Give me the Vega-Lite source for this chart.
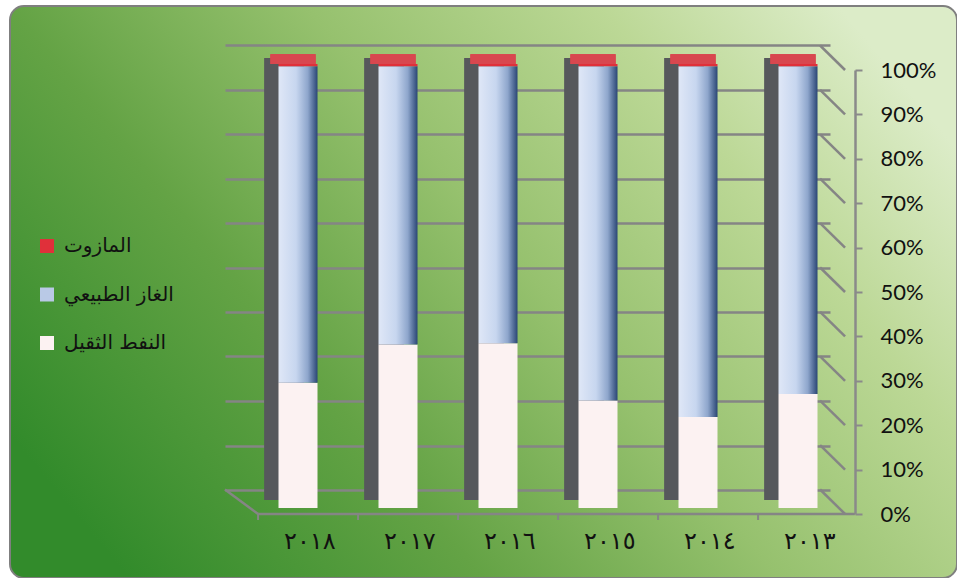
{
  "$schema": "https://vega.github.io/schema/vega-lite/v6.json",
  "width": 947,
  "height": 572,
  "autosize": {"type": "none"},
  "padding": {"left": 10, "top": 6, "right": 0, "bottom": 0},
  "background": "#ffffff",
  "config": {
    "view": {
      "stroke": "#7f7f7f",
      "strokeWidth": 2,
      "cornerRadius": 14,
      "fill": {
        "gradient": "linear",
        "x1": 0, "y1": 0.75, "x2": 1, "y2": 0.25,
        "stops": [
          {"offset": 0, "color": "#328b2b"},
          {"offset": 0.3, "color": "#64a345"},
          {"offset": 0.55, "color": "#96c16e"},
          {"offset": 0.8, "color": "#bcd896"},
          {"offset": 1, "color": "#dcecc8"}
        ]
      }
    }
  },
  "data": {
    "values": [
      {"year": "٢٠١٨", "series": "النفط الثقيل", "rank": 1, "share": 28.2},
      {"year": "٢٠١٨", "series": "الغاز الطبيعي", "rank": 2, "share": 71.3},
      {"year": "٢٠١٨", "series": "المازوت", "rank": 3, "share": 0.5},
      {"year": "٢٠١٧", "series": "النفط الثقيل", "rank": 1, "share": 36.8},
      {"year": "٢٠١٧", "series": "الغاز الطبيعي", "rank": 2, "share": 62.7},
      {"year": "٢٠١٧", "series": "المازوت", "rank": 3, "share": 0.5},
      {"year": "٢٠١٦", "series": "النفط الثقيل", "rank": 1, "share": 37.1},
      {"year": "٢٠١٦", "series": "الغاز الطبيعي", "rank": 2, "share": 62.4},
      {"year": "٢٠١٦", "series": "المازوت", "rank": 3, "share": 0.5},
      {"year": "٢٠١٥", "series": "النفط الثقيل", "rank": 1, "share": 24.2},
      {"year": "٢٠١٥", "series": "الغاز الطبيعي", "rank": 2, "share": 75.3},
      {"year": "٢٠١٥", "series": "المازوت", "rank": 3, "share": 0.5},
      {"year": "٢٠١٤", "series": "النفط الثقيل", "rank": 1, "share": 20.5},
      {"year": "٢٠١٤", "series": "الغاز الطبيعي", "rank": 2, "share": 79.0},
      {"year": "٢٠١٤", "series": "المازوت", "rank": 3, "share": 0.5},
      {"year": "٢٠١٣", "series": "النفط الثقيل", "rank": 1, "share": 25.7},
      {"year": "٢٠١٣", "series": "الغاز الطبيعي", "rank": 2, "share": 73.8},
      {"year": "٢٠١٣", "series": "المازوت", "rank": 3, "share": 0.5}
    ]
  },
  "layer": [
    {
      "mark": {"type": "bar", "opacity": 0},
      "encoding": {
        "x": {
          "field": "year", "type": "nominal", "sort": null,
          "scale": {"range": [215, 820]},
          "axis": null
        },
        "y": {
          "field": "share", "type": "quantitative", "stack": "normalize",
          "scale": {"domain": [0, 1], "range": [484, 39], "nice": false},
          "axis": {
            "orient": "left",
            "values": [0, 0.1, 0.2, 0.3, 0.4, 0.5, 0.6, 0.7, 0.8, 0.9, 1],
            "grid": true,
            "gridColor": "#858585",
            "gridWidth": 2.5,
            "labels": false,
            "ticks": false,
            "domain": false,
            "title": null
          }
        }
      }
    },
    {
      "layer": [
        {
          "data": {"values": [{"tick": 0}, {"tick": 0.1}, {"tick": 0.2}, {"tick": 0.3}, {"tick": 0.4}, {"tick": 0.5}, {"tick": 0.6}, {"tick": 0.7}, {"tick": 0.8}, {"tick": 0.9}, {"tick": 1}]},
          "mark": {"type": "rule", "color": "#858585", "strokeWidth": 2.5, "yOffset": -24.5},
          "encoding": {
            "x": {"datum": "٢٠١٣", "bandPosition": 0.81},
            "x2": {"datum": "٢٠١٣", "bandPosition": 1.45},
            "y": {"field": "tick", "type": "quantitative"},
            "y2": {"field": "tick"}
          }
        },
        {
          "data": {"values": [{"tick": 0}]},
          "mark": {"type": "rule", "color": "#858585", "strokeWidth": 2.5, "yOffset": -24.5},
          "encoding": {
            "x": {"datum": "٢٠١٨", "bandPosition": -1.63},
            "x2": {"datum": "٢٠١٨", "bandPosition": -0.78},
            "y": {"field": "tick", "type": "quantitative"},
            "y2": {"field": "tick"}
          }
        },
        {
          "data": {"values": [{"tick": 0}]},
          "mark": {"type": "rule", "color": "#858585", "strokeWidth": 2.5},
          "encoding": {
            "x": {"datum": "٢٠١٨", "bandPosition": -0.78},
            "x2": {"datum": "٢٠١٣", "bandPosition": 1.7},
            "y": {"field": "tick", "type": "quantitative"},
            "y2": {"field": "tick"}
          }
        },
        {
          "transform": [{"filter": "datum.rank === 1"}],
          "mark": {"type": "rule", "color": "#858585", "strokeWidth": 2, "y2Offset": 6},
          "encoding": {
            "x": {"field": "year", "type": "nominal", "sort": null, "bandPosition": -0.78},
            "y": {"datum": 0, "type": "quantitative"},
            "y2": {"datum": 0}
          }
        },
        {
          "mark": {"type": "bar", "color": "#56585c", "width": 39, "xOffset": -24, "yOffset": -12, "y2Offset": -14},
          "encoding": {
            "x": {"field": "year", "type": "nominal", "sort": null},
            "y": {"datum": 1, "type": "quantitative"},
            "y2": {"datum": 0}
          }
        },
        {
          "mark": {"type": "bar", "color": "#d8474f", "width": 45, "xOffset": -15, "yOffset": -6, "y2Offset": -6},
          "encoding": {
            "x": {"field": "year", "type": "nominal", "sort": null},
            "y": {"datum": 1.022, "type": "quantitative"},
            "y2": {"datum": 1}
          }
        },
        {
          "mark": {"type": "bar", "width": 39, "xOffset": -10, "yOffset": -6, "y2Offset": -6},
          "encoding": {
            "x": {
              "field": "year", "type": "nominal", "sort": null,
              "scale": {
                "domain": ["٢٠١٨", "٢٠١٧", "٢٠١٦", "٢٠١٥", "٢٠١٤", "٢٠١٣"],
                "range": [248, 848], "paddingInner": 0.61, "paddingOuter": 0.305
              },
              "axis": {
                "orient": "bottom",
                "offset": -63,
                "title": null,
                "domain": false,
                "ticks": false,
                "labelAngle": 0,
                "labelAlign": "left",
                "labelOffset": -24,
                "labelFont": "DejaVu Sans",
                "labelFontSize": 24,
                "labelColor": "#111111",
                "labelPadding": 26
              }
            },
            "y": {
              "field": "share", "type": "quantitative", "stack": "normalize",
              "scale": {"domain": [0, 1], "range": [508, 64], "nice": false},
              "axis": {
                "orient": "right",
                "offset": -102,
                "values": [0, 0.1, 0.2, 0.3, 0.4, 0.5, 0.6, 0.7, 0.8, 0.9, 1],
                "format": ".0%",
                "grid": false,
                "title": null,
                "domainColor": "#8a8a8a",
                "domainWidth": 2.5,
                "tickColor": "#8a8a8a",
                "tickWidth": 2,
                "tickSize": 7,
                "labelFont": "Lato",
                "labelFontSize": 22,
                "labelColor": "#111111",
                "labelPadding": 18
              }
            },
            "order": {"field": "rank", "type": "quantitative"},
            "color": {
              "condition": {
                "test": "datum.series === 'الغاز الطبيعي'",
                "value": {
                  "gradient": "linear",
                  "x1": 0, "y1": 0, "x2": 1, "y2": 0,
                  "stops": [
                    {"offset": 0, "color": "#dfe7f7"},
                    {"offset": 0.45, "color": "#c7d6ef"},
                    {"offset": 0.75, "color": "#8ea6cc"},
                    {"offset": 1, "color": "#2a4675"}
                  ]
                }
              },
              "field": "series",
              "type": "nominal",
              "scale": {
                "domain": ["المازوت", "الغاز الطبيعي", "النفط الثقيل"],
                "range": ["#e0303a", "#b9c9e6", "#fcf2f2"]
              },
              "legend": {
                "orient": "none",
                "legendX": 27,
                "legendY": 230,
                "title": null,
                "padding": 0,
                "symbolType": "square",
                "symbolSize": 196,
                "symbolStrokeWidth": 0,
                "symbolOpacity": 1,
                "labelFont": "DejaVu Sans",
                "labelFontSize": 20,
                "labelColor": "#111111",
                "labelOffset": 7,
                "rowPadding": 28.5,
                "labelLimit": 300
              }
            }
          }
        }
      ]
    }
  ],
  "resolve": {
    "scale": {"x": "independent", "y": "independent"},
    "axis": {"x": "independent", "y": "independent"}
  }
}
